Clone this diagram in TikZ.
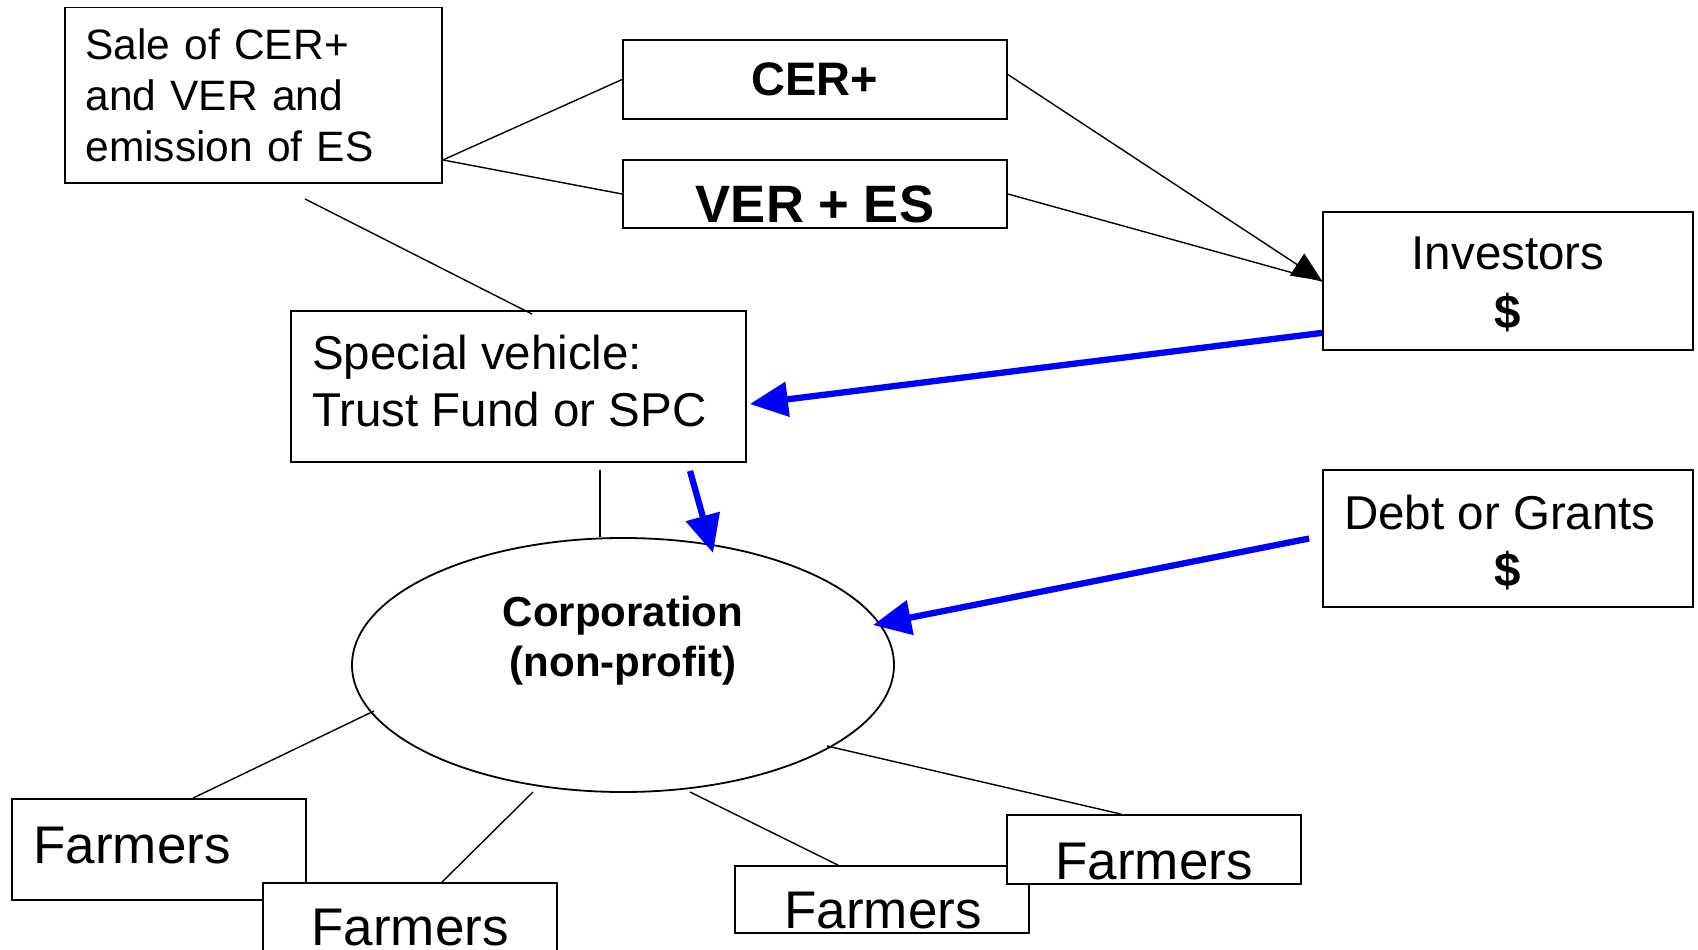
\documentclass[tikz,border=0pt]{standalone}
\usepackage{fontspec}
\setmainfont{Liberation Sans}
\usetikzlibrary{shapes.geometric,arrows.meta,calc}
\begin{document}
\begin{tikzpicture}[x=1pt,y=-1pt,
  box/.style={draw, line width=1.8pt, fill=white, inner sep=0pt, rectangle},
  conn/.style={line width=1.4pt},
  flow/.style={line width=1.4pt, -{Triangle[length=30pt,width=26pt]}},
  money/.style={draw=blue, line width=6.3pt, -{Triangle[length=38pt,width=34pt]}},
  farm/.style={font=\fontsize{53pt}{60pt}\selectfont},
]
\useasboundingbox (0,0) rectangle (1698,950);
\fill[white] (0,0) rectangle (1698,950);

% boxes
\node[box, minimum width=377pt, minimum height=175.5pt, align=left, text width=336pt,
      font=\fontsize{42.5pt}{51pt}\selectfont] (sale) at (253.5,95.3)
      {Sale of CER+\\and VER and\\emission of ES};
\node[box, minimum width=384pt, minimum height=79pt,
      font=\fontsize{47pt}{56pt}\selectfont\bfseries] (cer) at (815,79.5) {CER+};
\node[box, minimum width=384pt, minimum height=68pt] (ver) at (815,194) {};
\node[font=\fontsize{52.6pt}{60pt}\selectfont\bfseries] (vertext) at ($(ver.center)+(0,10)$) {VER + ES};
\node[box, minimum width=370pt, minimum height=138pt] (inv) at (1508,281) {};
\node[align=center, inner sep=0pt, font=\fontsize{47.5pt}{59pt}\selectfont]
      (invtext) at ($(inv.center)+(0,3)$) {Investors\\\textbf{\$}};
\node[box, minimum width=455pt, minimum height=151pt] (sv) at (518.5,386.5) {};
\node[anchor=west, align=left, inner sep=0pt,
      font=\fontsize{47.5pt}{57pt}\selectfont] (svtext) at (312,381.5)
      {Special vehicle:\\Trust Fund or SPC};
\node[box, minimum width=370pt, minimum height=137pt] (debt) at (1508,538.5) {};
\node[align=center, inner sep=0pt, font=\fontsize{47.5pt}{57.5pt}\selectfont]
      (debttext) at ($(debt.center)+(0,4)$) {\hspace*{-16pt}Debt or Grants\\\textbf{\$}};
\node[draw, ellipse, line width=1.8pt, fill=white, inner sep=0pt,
      minimum width=542pt, minimum height=254pt] (corp) at (623,665) {};
\node[align=center, inner sep=0pt, font=\fontsize{42pt}{50pt}\selectfont\bfseries]
      (corptext) at (623,641) {Corporation\\(non-profit)};

% farmers
\node[box, minimum width=294pt, minimum height=101pt] (f1) at (159,849.5) {};
\node[farm] (f1t) at (132,846) {Farmers};
\node[box, minimum width=294pt, minimum height=101pt] (f2) at (410,933.5) {};
\node[farm] (f2t) at (410,928) {Farmers};
\node[box, minimum width=294pt, minimum height=67pt] (f3) at (882,899.5) {};
\node[farm] (f3t) at (883,911) {Farmers};
\node[box, minimum width=294pt, minimum height=69pt] (f4) at (1154,849.5) {};
\node[farm] (f4t) at (1154,862) {Farmers};

% connectors
\draw[conn] ($(sale.south east)+(0,-24)$) -- (cer.west);
\draw[conn] ($(sale.south east)+(0,-24)$) -- (ver.west);
\coordinate (salefoot) at ($(sale.south)+(51.5,15)$);
\draw[conn] (salefoot) -- ($(sv.north)+(13.5,4)$);
\draw[conn] (ver.east) -- (inv.west);
\draw[flow] ($(cer.east)+(0,-5)$) -- (inv.west);

\draw[money] ($(inv.south west)+(0,-18)$) -- ($(sv.east)+(3,17.5)$);
\coordinate (svfoot) at ($(sv.south)+(171.5,8)$);
\draw[money] (svfoot) -- ($(corp.center)+(90,-112)$);
\coordinate (debtleft) at ($(debt.west)+(-13,0)$);
\draw[money] (debtleft) -- ($(corp.center)+(250,-40)$);

\coordinate (svstem) at ($(sv.south)+(81.5,7)$);
\draw[conn] (svstem) -- ($(corp.north)+(-23,0)$);

\draw[conn] ($(corp.center)+(-249,46)$) -- ($(f1.north)+(34,0)$);
\draw[conn] ($(corp.center)+(-90,127)$) -- ($(f2.north)+(32,0)$);
\draw[conn] ($(corp.center)+(67,127)$) -- ($(f3.north)+(-44,0)$);
\draw[conn] ($(corp.center)+(204,81)$) -- ($(f4.north)+(-33,0)$);
\end{tikzpicture}
\end{document}
